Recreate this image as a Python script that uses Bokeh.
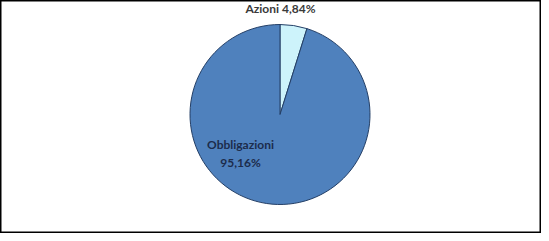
import math
from bokeh.plotting import figure
from bokeh.models import Range1d, ColumnDataSource
from bokeh.core.properties import value
from bokeh.embed import file_html
from bokeh.resources import INLINE

categories = ["Azioni", "Obbligazioni"]
shares = [4.84, 95.16]
slice_colors = ["#cdf3fb", "#4f81bd"]
label_texts = ["Azioni 4,84%", "Obbligazioni\n95,16%"]

W, H = 541, 233
p = figure(width=W, height=H, output_backend="svg", toolbar_location=None,
           x_range=Range1d(8, 8 + W), y_range=Range1d(-(8 + H), -8),
           min_border=0)
p.axis.visible = False
p.grid.visible = False
p.outline_line_color = "black"
p.outline_line_width = 2
p.background_fill_color = "white"

cx, cy, r = 287.5, -122, 90
total = sum(shares)
starts, ends = [], []
acc = 0.0
for s in shares:
    a0 = math.pi / 2 - 2 * math.pi * acc / total
    acc += s
    a1 = math.pi / 2 - 2 * math.pi * acc / total
    starts.append(a0)
    ends.append(a1)

src = ColumnDataSource(dict(cat=categories, start=starts, end=ends, color=slice_colors))
p.wedge(x=cx, y=cy, radius=r, start_angle="start", end_angle="end", direction="clock",
        fill_color="color", line_color="#243f66", line_width=1, source=src)

# labels
p.text(x=[288], y=[-16], text=[label_texts[0]], text_align="center", text_baseline="middle",
       text_font=value("Lato"), text_font_style="bold", text_font_size="12px", text_color="#3a3a3a")
p.text(x=[248, 248], y=[-152, -170], text=label_texts[1].split("\n"), text_align="center",
       text_baseline="middle", text_font=value("Lato"), text_font_style="bold",
       text_font_size="12px", text_color="#1c2c4c")

open("out.html", "w").write(file_html(p, INLINE))
